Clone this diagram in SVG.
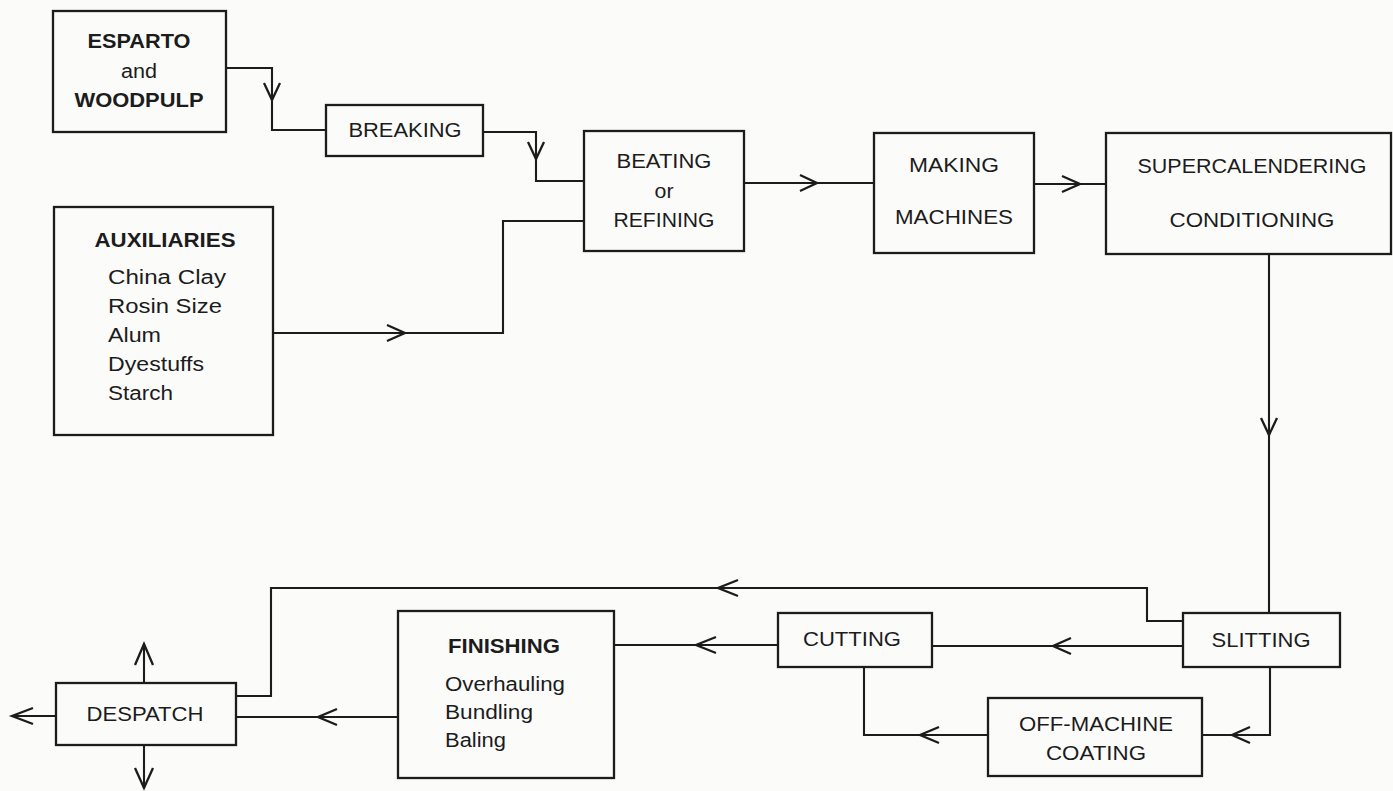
<svg xmlns="http://www.w3.org/2000/svg" width="1393" height="791" viewBox="0 0 1393 791">
<style>
.box{fill:none;stroke:#1c1c1c;stroke-width:2.3}
.ln{fill:none;stroke:#1c1c1c;stroke-width:2.1}
.ar{fill:none;stroke:#1c1c1c;stroke-width:2.3;stroke-linejoin:miter}
text{font-family:"Liberation Sans",Arial,sans-serif;font-size:20px;fill:#1c1c1c}
.c{text-anchor:middle}
.b{font-weight:bold}
</style>
<rect x="0" y="0" width="1393" height="791" fill="#fbfbfa"/>
<g id="connectors">
<path class="ln" d="M226,68 H272 V130 H326"/>
<path class="ar" d="M264,83 L272,100 L280,83"/>
<path class="ln" d="M483,132 H536 V181 H584"/>
<path class="ar" d="M528,142 L536,159 L544,142"/>
<path class="ln" d="M273,333 H503 V221 H584"/>
<path class="ar" d="M387,325 L405,333 L387,341"/>
<path class="ln" d="M744,183 H874"/>
<path class="ar" d="M800,175 L817,183 L800,191"/>
<path class="ln" d="M1034,184 H1106"/>
<path class="ar" d="M1062,176 L1080,184 L1062,192"/>
<path class="ln" d="M1269,254 V613"/>
<path class="ar" d="M1261,418 L1269,435 L1277,418"/>
<path class="ln" d="M1183,621 H1147 V588 H271 V696 H236"/>
<path class="ar" d="M738,580 L718,588 L738,596"/>
<path class="ln" d="M1183,646 H932"/>
<path class="ar" d="M1071,638 L1053,646 L1071,654"/>
<path class="ln" d="M778,645 H614"/>
<path class="ar" d="M716,637 L696,645 L716,653"/>
<path class="ln" d="M1270,667 V735 H1202"/>
<path class="ar" d="M1250,727 L1232,735 L1250,743"/>
<path class="ln" d="M988,735 H864 V667"/>
<path class="ar" d="M939,727 L920,735 L939,743"/>
<path class="ln" d="M398,717 H236"/>
<path class="ar" d="M337,709 L318,717 L337,725"/>
<path class="ln" d="M56,716 H12"/>
<path class="ar" d="M33,708 L12,716 L33,724"/>
<path class="ln" d="M144,683 V644"/>
<path class="ar" d="M135,665 L144,644 L153,665"/>
<path class="ln" d="M144,745 V788"/>
<path class="ar" d="M135,768 L144,788 L153,768"/>
</g>
<g id="esparto">
<rect class="box" x="53" y="11" width="173" height="121"/>
<text class="c b" x="139" y="48" textLength="103" lengthAdjust="spacingAndGlyphs">ESPARTO</text>
<text class="c" x="139" y="78" textLength="36" lengthAdjust="spacingAndGlyphs">and</text>
<text class="c b" x="139" y="107" textLength="129" lengthAdjust="spacingAndGlyphs">WOODPULP</text>
</g>
<g id="breaking">
<rect class="box" x="326" y="105" width="157" height="51"/>
<text class="c" x="405" y="137" textLength="113" lengthAdjust="spacingAndGlyphs">BREAKING</text>
</g>
<g id="auxiliaries">
<rect class="box" x="54" y="207" width="219" height="228"/>
<text class="c b" x="165" y="247" textLength="141" lengthAdjust="spacingAndGlyphs">AUXILIARIES</text>
<text x="108" y="284" textLength="118" lengthAdjust="spacingAndGlyphs">China Clay</text>
<text x="108" y="313" textLength="114" lengthAdjust="spacingAndGlyphs">Rosin Size</text>
<text x="108" y="342" textLength="53" lengthAdjust="spacingAndGlyphs">Alum</text>
<text x="108" y="371" textLength="96" lengthAdjust="spacingAndGlyphs">Dyestuffs</text>
<text x="108" y="400" textLength="65" lengthAdjust="spacingAndGlyphs">Starch</text>
</g>
<g id="beating">
<rect class="box" x="584" y="131" width="160" height="120"/>
<text class="c" x="664" y="168" textLength="95" lengthAdjust="spacingAndGlyphs">BEATING</text>
<text class="c" x="664" y="198" textLength="19" lengthAdjust="spacingAndGlyphs">or</text>
<text class="c" x="664" y="227" textLength="101" lengthAdjust="spacingAndGlyphs">REFINING</text>
</g>
<g id="making">
<rect class="box" x="874" y="133" width="160" height="120"/>
<text class="c" x="954" y="172" textLength="90" lengthAdjust="spacingAndGlyphs">MAKING</text>
<text class="c" x="954" y="224" textLength="118" lengthAdjust="spacingAndGlyphs">MACHINES</text>
</g>
<g id="supercalendering">
<rect class="box" x="1106" y="133" width="285" height="121"/>
<text class="c" x="1252" y="173" textLength="229" lengthAdjust="spacingAndGlyphs">SUPERCALENDERING</text>
<text class="c" x="1252" y="227" textLength="165" lengthAdjust="spacingAndGlyphs">CONDITIONING</text>
</g>
<g id="slitting">
<rect class="box" x="1183" y="613" width="157" height="54"/>
<text class="c" x="1261" y="647" textLength="99" lengthAdjust="spacingAndGlyphs">SLITTING</text>
</g>
<g id="cutting">
<rect class="box" x="778" y="613" width="154" height="54"/>
<text class="c" x="852" y="646" textLength="98" lengthAdjust="spacingAndGlyphs">CUTTING</text>
</g>
<g id="off-machine-coating">
<rect class="box" x="988" y="698" width="214" height="78"/>
<text class="c" x="1096" y="731" textLength="154" lengthAdjust="spacingAndGlyphs">OFF-MACHINE</text>
<text class="c" x="1096" y="760" textLength="100" lengthAdjust="spacingAndGlyphs">COATING</text>
</g>
<g id="finishing">
<rect class="box" x="398" y="611" width="216" height="167"/>
<text class="b" x="448" y="653" textLength="112" lengthAdjust="spacingAndGlyphs">FINISHING</text>
<text x="445" y="691" textLength="120" lengthAdjust="spacingAndGlyphs">Overhauling</text>
<text x="445" y="719" textLength="88" lengthAdjust="spacingAndGlyphs">Bundling</text>
<text x="445" y="747" textLength="61" lengthAdjust="spacingAndGlyphs">Baling</text>
</g>
<g id="despatch">
<rect class="box" x="56" y="683" width="180" height="62"/>
<text class="c" x="145" y="721" textLength="117" lengthAdjust="spacingAndGlyphs">DESPATCH</text>
</g>
</svg>
